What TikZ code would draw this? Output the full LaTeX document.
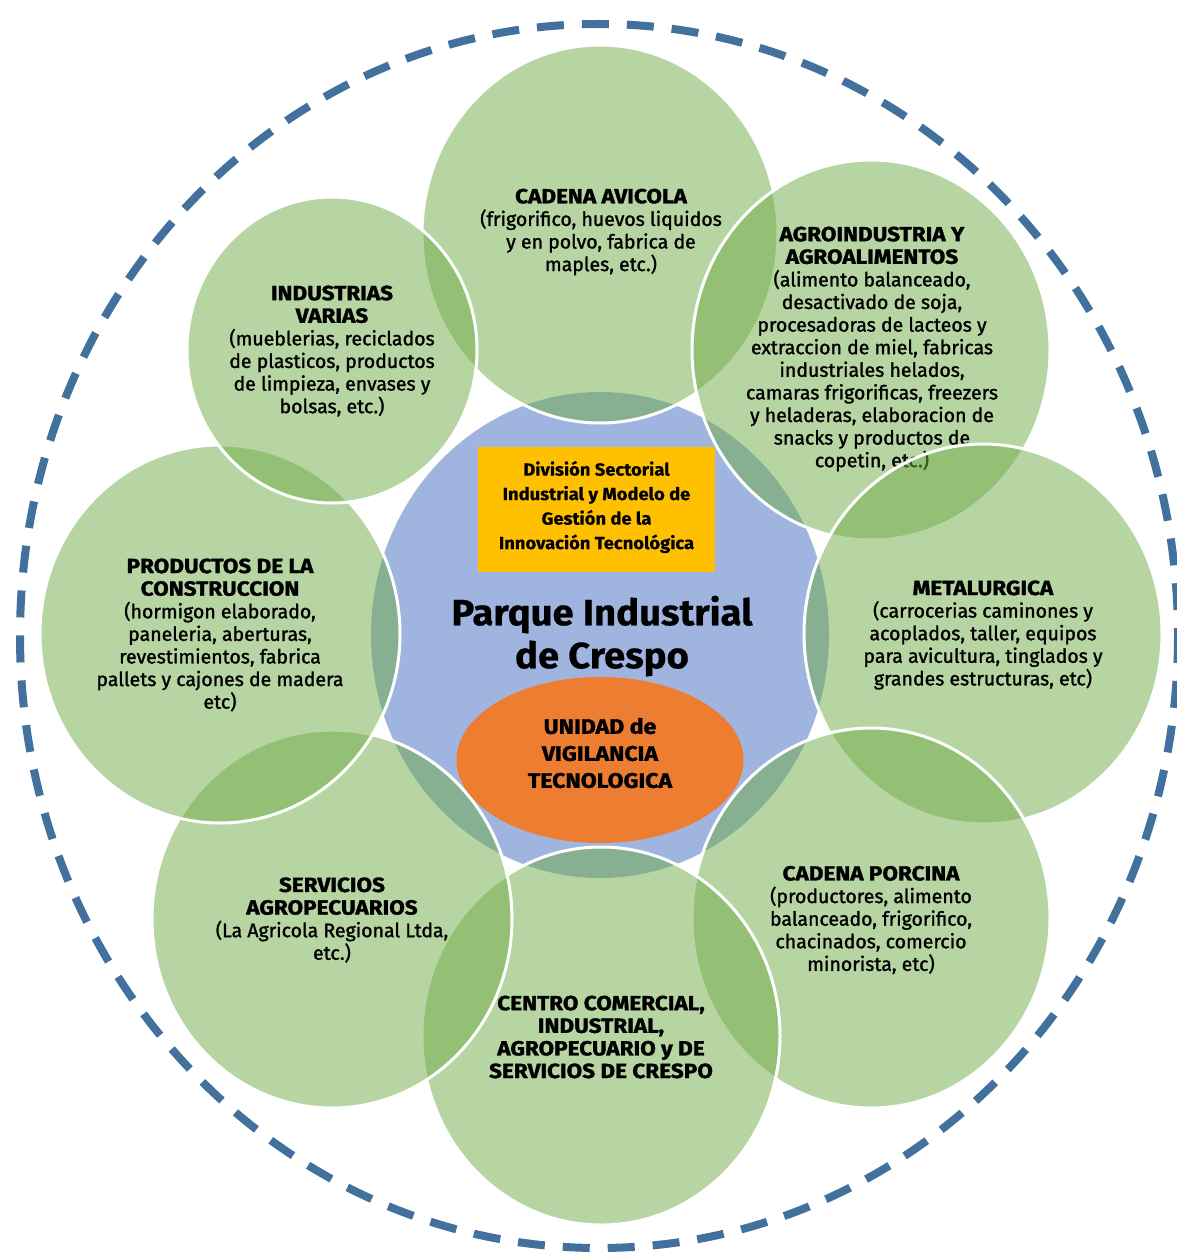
\documentclass[tikz,border=0pt]{standalone}
\usepackage{fontspec}
\usetikzlibrary{shapes.geometric}
\setmainfont{Fira Sans}
\newfontfamily\bodyf{Fira Sans}[FakeStretch=1.0, FakeBold=1.4]
\newfontfamily\headf{Fira Sans}[FakeStretch=1.1, FakeBold=1.5]
\newfontfamily\midf{Fira Sans}[FakeStretch=1.05, FakeBold=0.6]
\definecolor{gfill}{HTML}{70AD47}
\definecolor{cblue}{HTML}{A0B4E0}
\definecolor{dashblue}{HTML}{41719C}
\definecolor{ybox}{HTML}{FFC000}
\definecolor{oell}{HTML}{ED7D31}
\newcommand{\hd}[1]{{\headf\bfseries\fontsize{20.5}{22.6}\selectfont #1}}
\tikzset{
  gcirc/.style={ellipse, draw=white, line width=3pt, fill=gfill, fill opacity=0.5, draw opacity=1, inner sep=0pt},
  lbl/.style={align=center, text=black, font=\bodyf\fontsize{19.5}{22.6}\selectfont, inner sep=0pt},
}
\begin{document}
\begin{tikzpicture}[x=1pt,y=-1pt]
\useasboundingbox (0,0) rectangle (1176,1252);
\fill[white] (0,0) rectangle (1176,1252);
% outer dashed ring
\draw[dashblue, line width=8pt, dash pattern=on 27pt off 18pt] (599,636) ellipse [x radius=579, y radius=612];
% center circle
\node[ellipse, fill=cblue, minimum width=458pt, minimum height=486pt, inner sep=0pt] (core) at (600,635) {};
% outer circles with their texts
\node[gcirc, minimum width=356pt, minimum height=378pt] (c1) at (600,234) {};
\node[lbl] (t1) at (601,232) {\hd{CADENA AVICOLA}\\(frigorifico, huevos liquidos\\y en polvo, fabrica de\\maples, etc.)};
\node[gcirc, minimum width=358pt, minimum height=380pt] (c2) at (871,350) {};
\node[lbl] (t2) at (872,349) {\hd{AGROINDUSTRIA Y}\\\hd{AGROALIMENTOS}\\(alimento balanceado,\\desactivado de soja,\\procesadoras de lacteos y\\extraccion de miel, fabricas\\industriales helados,\\camaras frigorificas, freezers\\y heladeras, elaboracion de\\snacks y productos de\\copetin, etc.)};
\node[gcirc, minimum width=358pt, minimum height=380pt] (c3) at (983,634) {};
\node[lbl] (t3) at (983,635) {\hd{METALURGICA}\\(carrocerias caminones y\\acoplados, taller, equipos\\para avicultura, tinglados y\\grandes estructuras, etc)};
\node[gcirc, minimum width=358pt, minimum height=380pt] (c4) at (871,918) {};
\node[lbl] (t4) at (871,920) {\hd{CADENA PORCINA}\\(productores, alimento\\balanceado, frigorifico,\\chacinados, comercio\\minorista, etc)};
\node[gcirc, minimum width=358pt, minimum height=378pt] (c5) at (601,1036) {};
\node[lbl] (t5) at (601,1037) {\hd{CENTRO COMERCIAL,}\\\hd{INDUSTRIAL,}\\\hd{AGROPECUARIO y DE}\\\hd{SERVICIOS DE CRESPO}};
\node[gcirc, minimum width=360pt, minimum height=378pt] (c6) at (332,919) {};
\node[lbl] (t6) at (332,920) {\hd{SERVICIOS}\\\hd{AGROPECUARIOS}\\(La Agricola Regional Ltda,\\etc.)};
\node[gcirc, minimum width=360pt, minimum height=378pt] (c7) at (220,634) {};
\node[lbl] (t7) at (220,635) {\hd{PRODUCTOS DE LA}\\\hd{CONSTRUCCION}\\(hormigon elaborado,\\paneleria, aberturas,\\revestimientos, fabrica\\pallets y cajones de madera\\etc)};
\node[gcirc, minimum width=290pt, minimum height=306pt] (c8) at (332,350) {};
\node[lbl] (t8) at (332,351) {\hd{INDUSTRIAS}\\\hd{VARIAS}\\(mueblerias, reciclados\\de plasticos, productos\\de limpieza, envases y\\bolsas, etc.)};
% central elements
\node[rectangle, fill=ybox, minimum width=237pt, minimum height=125pt, inner sep=0pt] (box) at (596.5,509.5) {};
\node[align=center, font=\midf\bfseries\fontsize{17.5}{24.5}\selectfont, inner sep=0pt] (boxt) at (596.5,507) {División Sectorial\\Industrial y Modelo de\\Gestión de la\\Innovación Tecnológica};
\node[align=center, font=\midf\bfseries\fontsize{36.5}{43}\selectfont, inner sep=0pt] (park) at (602,636) {Parque Industrial\\de Crespo};
\node[ellipse, fill=oell, minimum width=287pt, minimum height=166pt, inner sep=0pt] (uv) at (600,760) {};
\node[align=center, font=\headf\bfseries\fontsize{21}{27}\selectfont, inner sep=0pt] (uvt) at (600,753) {UNIDAD de\\VIGILANCIA\\TECNOLOGICA};
\end{tikzpicture}
\end{document}
